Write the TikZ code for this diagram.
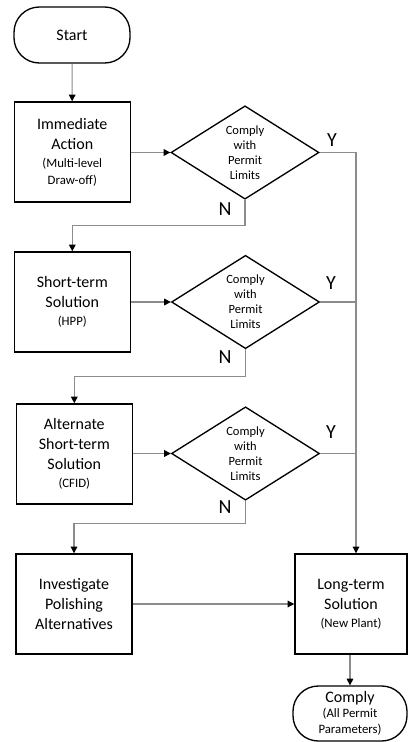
\documentclass[tikz,border=0pt]{standalone}
\usepackage{fontspec}
\setmainfont{Carlito}
\usetikzlibrary{shapes.geometric,arrows.meta}
\newcommand\smtxt{\fontsize{9.6}{11}\selectfont}
\begin{document}
\begin{tikzpicture}[x=0.75pt,y=-0.75pt,
  box/.style={draw, line width=1.1pt, rectangle, minimum width=87pt, minimum height=75pt, align=center, inner sep=0pt, font=\fontsize{12}{15}\selectfont},
  term/.style={draw, line width=1pt, rounded corners=19pt, align=center, inner sep=0pt, font=\fontsize{12}{15}\selectfont},
  dec/.style={draw, line width=1pt, diamond, aspect=1.6, inner sep=0pt, minimum width=111pt, minimum height=70pt, align=center, font=\fontsize{9.4}{11.25}\selectfont},
  conn/.style={draw=black!45, line width=0.8pt, -{Triangle[length=5pt,width=5pt,color=black]}},
  line/.style={draw=black!45, line width=0.8pt},
  yn/.style={font=\fontsize{15}{18}\selectfont, inner sep=0pt}]
\useasboundingbox (0,0) rectangle (407,742);
% nodes
\node[term, minimum width=87pt, minimum height=42pt] (start) at (72,35) {Start};
\node[box] (imm) at (72.3,152) {Immediate\\Action\\[-1.5pt]{\smtxt (Multi-level}\\[-2.25pt]{\smtxt Draw-off)}};
\node[box] (short) at (72.3,302) {Short-term\\Solution\\[-1.5pt]{\smtxt (HPP)}};
\node[box] (alt) at (74.3,454) {Alternate\\Short-term\\Solution\\[-1.5pt]{\smtxt (CFID)}};
\node[box] (inv) at (74,604) {Investigate\\Polishing\\Alternatives};
\node[box, minimum width=84pt] (lt) at (351,604) {Long-term\\Solution\\[-1.5pt]{\smtxt (New Plant)}};
\node[term, minimum width=85.5pt, minimum height=41.25pt] (comply) at (350,713.5) {\raisebox{-1.5pt}{Comply}\\[-2.5pt]{\smtxt (All Permit}\\[-3pt]{\smtxt Parameters)}};
\node[dec] (d1) at (245,152.5) {Comply\\with\\Permit\\Limits};
\node[dec] (d2) at (245.5,302) {Comply\\with\\Permit\\Limits};
\node[dec] (d3) at (245.5,453.5) {Comply\\with\\Permit\\Limits};
% labels
\node[yn] (y1) at (332,140) {Y};
\node[yn] (y2) at (331,283) {Y};
\node[yn] (y3) at (331,432) {Y};
\node[yn] (n1) at (225,209) {N};
\node[yn] (n2) at (225,357) {N};
\node[yn] (n3) at (225,507) {N};
\coordinate (bus) at (356,0);
% connectors
\draw[conn] (start) -- (imm);
\draw[conn] (imm.east |- d1.west) -- (d1.west);
\draw[conn] (short.east |- d2.west) -- (d2.west);
\draw[conn] (alt.east |- d3.west) -- (d3.west);
\draw[conn] (d1.south) -- ++(0,26) -| (short.north);
\draw[conn] (d2.south) -- ++(0,27) -| (alt.north);
\draw[conn] (d3.south) -- ++(0,23) -| (inv.north);
\draw[conn] (d1.east) -- (d1.east -| bus) -- (bus |- lt.north);
\draw[line] (d2.east) -- (d2.east -| bus);
\draw[line] (d3.east) -- (d3.east -| bus);
\draw[conn] (inv.east) -- (inv.east -| lt.west);
\draw[conn] (lt.south -| comply.north) -- (comply.north);
\end{tikzpicture}
\end{document}
